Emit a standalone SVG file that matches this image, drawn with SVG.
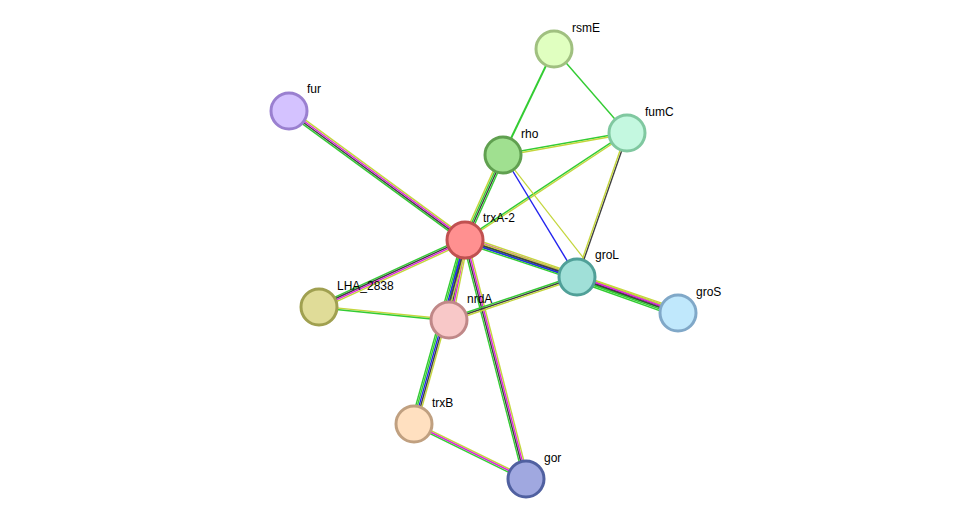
<svg xmlns="http://www.w3.org/2000/svg" width="976" height="525" viewBox="0 0 976 525">
<style>
line{stroke-width:1.4;fill:none}
.g{stroke:#33cc33}.k{stroke:#404040}.m{stroke:#dd22dd}.b{stroke:#2222ee}.y{stroke:#c4d63c}
circle{stroke-width:3}
text{font-family:"Liberation Sans",Arial,sans-serif;font-size:12px;fill:#000}
</style>
<rect width="976" height="525" fill="#fff"/>
<g id="connectors">
<g transform="translate(465,240) rotate(216.24)"><line class="g" x1="0" y1="-2.4" x2="218" y2="-2.4"/><line class="k" x1="0" y1="-0.8" x2="218" y2="-0.8"/><line class="m" x1="0" y1="0.8" x2="218" y2="0.8"/><line class="y" x1="0" y1="2.4" x2="218" y2="2.4"/></g>
<g transform="translate(465,240) rotate(155.35)"><line class="g" x1="0" y1="2.4" x2="160" y2="2.4"/><line class="k" x1="0" y1="0.8" x2="160" y2="0.8"/><line class="m" x1="0" y1="-0.8" x2="160" y2="-0.8"/><line class="y" x1="0" y1="-2.4" x2="160" y2="-2.4"/></g>
<g transform="translate(465,240) rotate(18.92)"><line class="y" x1="0" y1="-4" x2="225" y2="-4"/><line class="m" x1="0" y1="-2.4" x2="225" y2="-2.4"/><line class="k" x1="0" y1="-0.8" x2="225" y2="-0.8"/><line class="g" x1="0" y1="0.8" x2="225" y2="0.8"/></g>
<g transform="translate(465,240) rotate(18.28)"><line class="y" x1="0" y1="-1.6" x2="118" y2="-1.6"/><line class="k" x1="0" y1="0" x2="118" y2="0"/><line class="b" x1="0" y1="1.6" x2="118" y2="1.6"/><line class="g" x1="0" y1="3.2" x2="118" y2="3.2"/></g>
<g transform="translate(577,277) rotate(19.62)"><line class="y" x1="0" y1="-2.4" x2="107" y2="-2.4"/><line class="m" x1="0" y1="-0.8" x2="107" y2="-0.8"/><line class="k" x1="0" y1="0.8" x2="107" y2="0.8"/><line class="g" x1="0" y1="2.4" x2="107" y2="2.4"/><line class="g" x1="0" y1="4" x2="107" y2="4"/></g>
<g transform="translate(465,240) rotate(-65.91)"><line class="y" x1="0" y1="-2.4" x2="93" y2="-2.4"/><line class="g" x1="0" y1="-0.8" x2="93" y2="-0.8"/><line class="k" x1="0" y1="0.8" x2="93" y2="0.8"/><line class="g" x1="0" y1="2.4" x2="93" y2="2.4"/></g>
<g transform="translate(503,155) rotate(-64.31)"><line class="g" x1="0" y1="0" x2="117" y2="0" style="stroke-width:2"/></g>
<g transform="translate(554,49) rotate(49)"><line class="g" x1="0" y1="0" x2="111" y2="0"/></g>
<g transform="translate(503,155) rotate(-10.06)"><line class="g" x1="0" y1="-0.8" x2="126" y2="-0.8"/><line class="y" x1="0" y1="0.8" x2="126" y2="0.8"/></g>
<g transform="translate(465,240) rotate(-33.44)"><line class="y" x1="0" y1="0.8" x2="194" y2="0.8"/><line class="g" x1="0" y1="-0.8" x2="194" y2="-0.8"/></g>
<g transform="translate(503,155) rotate(58.76)"><line class="b" x1="0" y1="0" x2="143" y2="0"/></g>
<g transform="translate(503,155) rotate(52)"><line class="y" x1="10" y1="0" x2="150" y2="0" style="stroke-width:1.2"/></g>
<g transform="translate(627,133) rotate(109.15)"><line class="k" x1="0" y1="-0.8" x2="152" y2="-0.8"/><line class="y" x1="0" y1="0.8" x2="152" y2="0.8"/></g>
<g transform="translate(465,240) rotate(101.31)"><line class="y" x1="0" y1="-3.2" x2="82" y2="-3.2"/><line class="m" x1="0" y1="-1.6" x2="82" y2="-1.6"/><line class="k" x1="0" y1="0" x2="82" y2="0"/><line class="b" x1="0" y1="1.6" x2="82" y2="1.6"/><line class="g" x1="0" y1="3.2" x2="82" y2="3.2"/></g>
<g transform="translate(465,240) rotate(105.49)"><line class="y" x1="0" y1="-3.2" x2="191" y2="-3.2"/><line class="k" x1="0" y1="-1.6" x2="191" y2="-1.6"/><line class="b" x1="0" y1="0" x2="191" y2="0"/><line class="g" x1="0" y1="1.6" x2="191" y2="1.6"/><line class="g" x1="0" y1="3.2" x2="191" y2="3.2"/></g>
<g transform="translate(465,240) rotate(75.68)"><line class="y" x1="0" y1="-2.4" x2="247" y2="-2.4"/><line class="m" x1="0" y1="-0.8" x2="247" y2="-0.8"/><line class="k" x1="0" y1="0.8" x2="247" y2="0.8"/><line class="g" x1="0" y1="2.4" x2="247" y2="2.4"/></g>
<g transform="translate(449,320) rotate(-18.57)"><line class="g" x1="0" y1="-1.6" x2="135" y2="-1.6"/><line class="k" x1="0" y1="0" x2="135" y2="0"/><line class="y" x1="0" y1="1.6" x2="135" y2="1.6"/></g>
<g transform="translate(449,320) rotate(185.71)"><line class="y" x1="0" y1="0.8" x2="131" y2="0.8"/><line class="g" x1="0" y1="-0.8" x2="131" y2="-0.8"/></g>
<g transform="translate(414,424) rotate(26.16)"><line class="y" x1="0" y1="-1.6" x2="125" y2="-1.6"/><line class="m" x1="0" y1="0" x2="125" y2="0"/><line class="g" x1="0" y1="1.6" x2="125" y2="1.6"/></g>
</g>
<g id="rsmE"><circle cx="554" cy="49" r="18" fill="#e0ffc0" stroke="#a0c080"/><text x="572" y="32">rsmE</text></g>
<g id="fur"><circle cx="289" cy="111" r="18" fill="#d4c2ff" stroke="#9a80d0"/><text x="307" y="93">fur</text></g>
<g id="fumC"><circle cx="627" cy="133" r="18" fill="#c4f8e0" stroke="#80c8a0"/><text x="645" y="116">fumC</text></g>
<g id="rho"><circle cx="503" cy="155" r="18" fill="#a0e090" stroke="#60a050"/><text x="521" y="138">rho</text></g>
<g id="trxA-2"><circle cx="465" cy="240" r="18" fill="#ff9090" stroke="#c05050"/><text x="483" y="222">trxA-2</text></g>
<g id="groL"><circle cx="577" cy="277" r="18" fill="#a0e0d8" stroke="#50a098"/><text x="595" y="259">groL</text></g>
<g id="groS"><circle cx="678" cy="313" r="18" fill="#c0e8fc" stroke="#80a8c8"/><text x="696" y="296">groS</text></g>
<g id="LHA_2838"><circle cx="319" cy="307" r="18" fill="#e0dc98" stroke="#a0a050"/><text x="337" y="290">LHA_2838</text></g>
<g id="nrdA"><circle cx="449" cy="320" r="18" fill="#f8c8c8" stroke="#c08888"/><text x="467" y="303">nrdA</text></g>
<g id="trxB"><circle cx="414" cy="424" r="18" fill="#ffe0c0" stroke="#c0a080"/><text x="432" y="407">trxB</text></g>
<g id="gor"><circle cx="526" cy="479" r="18" fill="#a0a8e0" stroke="#5060a0"/><text x="544" y="462">gor</text></g>
</svg>
